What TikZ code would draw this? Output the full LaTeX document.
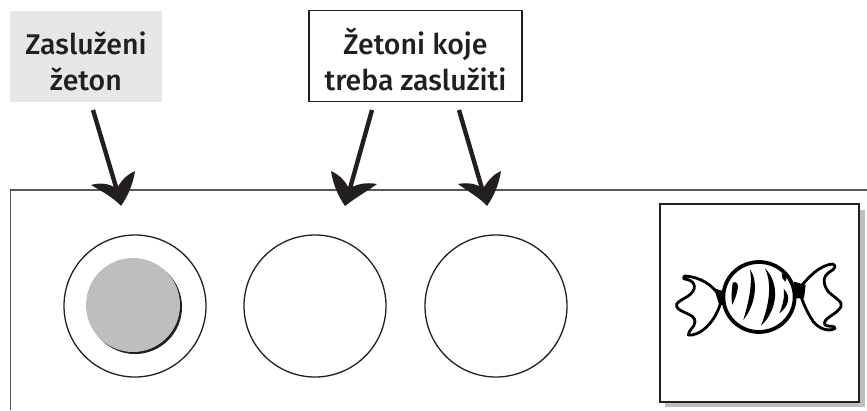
\documentclass[tikz,border=0pt]{standalone}
\usepackage{fontspec}
\setmainfont{Fira Sans Medium}
\definecolor{ink}{HTML}{231F20}
\definecolor{lab}{HTML}{E6E7E8}
\definecolor{tok}{HTML}{BCBEC0}
\newcommand{\labstrut}{\rule{0pt}{33pt}}
\tikzset{
  lbl/.style={align=center,font=\fontsize{28.5}{36}\selectfont,text=ink,inner sep=0pt,minimum height=91pt},
  stem/.style={draw=ink,line width=4.4pt},
  ring/.style={circle,draw=ink,line width=1.3pt,minimum size=142pt,inner sep=0pt},
  wrap/.style={draw=black,line width=2.8pt,line join=round,line cap=round}
}
\begin{document}
\begin{tikzpicture}[x=1pt,y=-1pt]
\useasboundingbox (0,0) rectangle (867,410);
\fill[white] (0,0) rectangle (867,410);
% frame
\coordinate (fa) at (867,190);
\coordinate (fb) at (10.5,190);
\coordinate (fc) at (10.5,410);
\draw[draw=ink!75,line width=1.4pt] (fa) -- (fb) -- (fc);
% labels
\node[lbl,fill=lab,minimum width=152pt] (earned) at (86,56) {\labstrut Zasluženi\\žeton};
\node[lbl,draw=ink,line width=1.3pt,minimum width=213pt] (toearn) at (415.5,56) {\labstrut Žetoni koje\\treba zaslužiti};
% tokens
\node[ring] (t1) at (135,306) {};
\node[ring] (t2) at (315,306) {};
\node[ring] (t3) at (496,306) {};
\fill[ink] (135,307) circle (47);
\node[circle,fill=tok,minimum size=94pt,inner sep=0pt] (chip) at (133,305) {};
% arrows
\coordinate (a1s) at (93,110); \coordinate (a1e) at (117.5,192);
\coordinate (a2s) at (372,110); \coordinate (a2e) at (349,192);
\coordinate (a3s) at (459,110); \coordinate (a3e) at (483,192);
\draw[stem] (a1s) -- (a1e);
\draw[stem] (a2s) -- (a2e);
\draw[stem] (a3s) -- (a3e);
\fill[ink] (121,206) .. controls (114,198) and (103,192) .. (91,185)
  .. controls (101,182) and (111,184) .. (117,189)
  .. controls (120,182) and (126,175) .. (135,171)
  .. controls (133,184) and (128,196) .. cycle;
\fill[ink] (345,206) .. controls (338,196) and (333,184) .. (331,171)
  .. controls (340,175) and (346,182) .. (349,189)
  .. controls (356,184) and (366,182) .. (377,184)
  .. controls (366,192) and (355,198) .. cycle;
\fill[ink] (487,206) .. controls (480,198) and (469,192) .. (458,184)
  .. controls (468,182) and (478,184) .. (483,189)
  .. controls (487,182) and (492,175) .. (501,171)
  .. controls (499,184) and (494,196) .. cycle;
% candy card
\fill[tok] (665,210) rectangle (865,407);
\node[draw=ink,fill=white,line width=2.2pt,minimum width=199pt,minimum height=198pt,inner sep=0pt] (card) at (759.5,303) {};
\begin{scope}[shift={(640,190)},x=0.3333pt,y=-0.3333pt]
  \draw[black,line width=3.8pt] (357,321) ellipse (107 and 105);
  \draw[wrap] (240,318) .. controls (215,285) and (185,262) .. (135,258)
     .. controls (128,262) and (130,268) .. (140,268)
     .. controls (170,275) and (170,300) .. (145,318)
     .. controls (125,330) and (105,338) .. (110,350)
     .. controls (120,370) and (165,370) .. (165,395)
     .. controls (165,412) and (145,420) .. (145,435)
     .. controls (175,440) and (230,400) .. (245,325);
  \fill[black] (222,295) -- (256,305) -- (250,345) -- (238,345) -- cycle;
  \draw[wrap] (475,300) .. controls (505,260) and (540,225) .. (578,222)
     .. controls (590,225) and (585,238) .. (570,245)
     .. controls (545,260) and (550,285) .. (565,305)
     .. controls (585,325) and (610,335) .. (603,350)
     .. controls (590,375) and (545,385) .. (555,405)
     .. controls (565,412) and (585,405) .. (585,415)
     .. controls (570,425) and (540,420) .. (520,395)
     .. controls (500,365) and (490,340) .. (480,310);
  \fill[black] (462,275) -- (497,285) -- (492,325) -- (468,325) -- cycle;
  \fill[black] (278,278) .. controls (298,270) and (300,295) .. (277,344) .. controls (272,320) and (276,300) .. cycle;
  \fill[black] (330,238) .. controls (354,270) and (350,340) .. (310,390) .. controls (326,335) and (338,285) .. cycle;
  \fill[black] (375,235) .. controls (420,280) and (414,360) .. (363,407) .. controls (386,350) and (398,285) .. cycle;
  \fill[black] (425,250) .. controls (440,253) and (443,265) .. (436,275) .. controls (428,270) and (424,260) .. cycle;
  \fill[black] (431,296) .. controls (455,320) and (445,350) .. (418,370) .. controls (430,340) and (434,320) .. cycle;
\end{scope}
\end{tikzpicture}
\end{document}
